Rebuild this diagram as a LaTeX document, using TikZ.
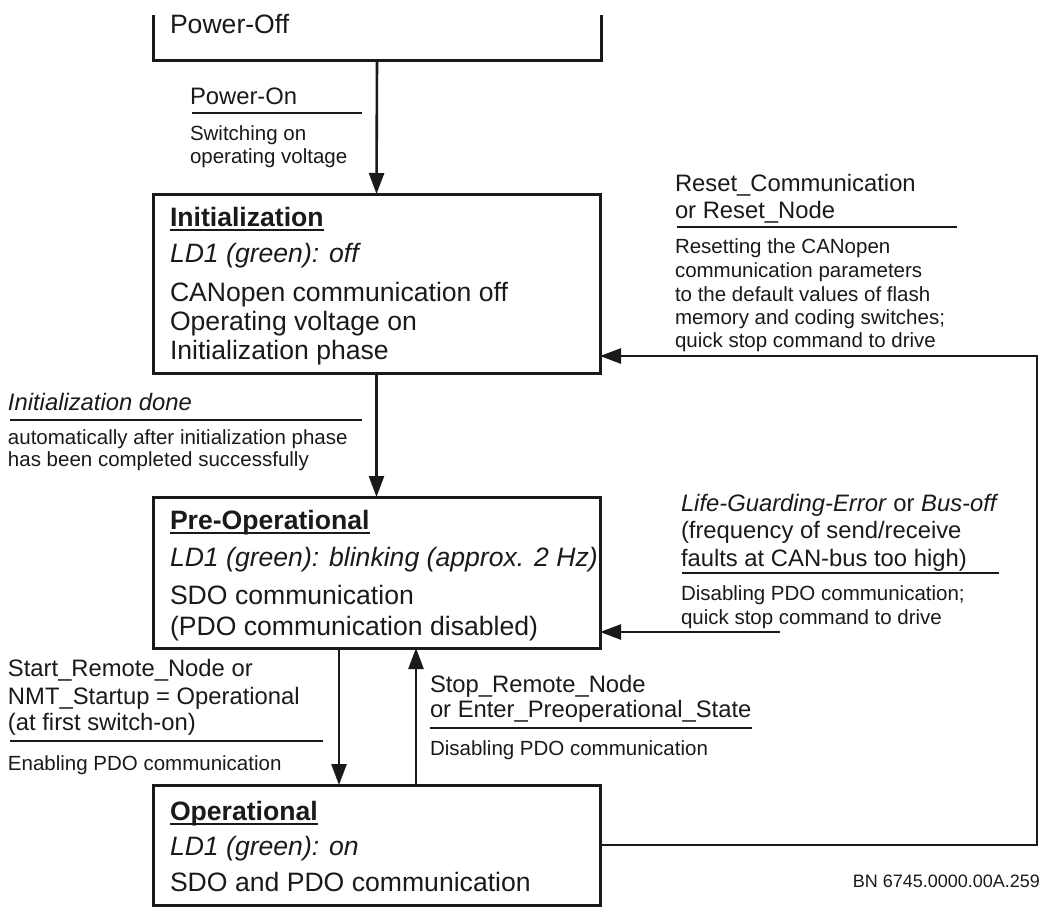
\documentclass[tikz,border=0pt]{standalone}
\usepackage{fontspec}
\setmainfont{Liberation Sans}
\usetikzlibrary{arrows.meta}
\definecolor{ink}{HTML}{1A1A1A}
\newcommand\fbody{\fontsize{26.6}{30}\selectfont}
\newcommand\flabel{\fontsize{23.8}{27}\selectfont}
\newcommand\fsub{\fontsize{20.5}{23.5}\selectfont}
\newcommand\fbn{\fontsize{18}{20}\selectfont}
\begin{document}
\begin{tikzpicture}[x=1pt,y=-1pt,
  every node/.style={inner sep=0pt, outer sep=0pt, text=ink},
  statebox/.style={draw=ink, line width=3pt, anchor=north west, minimum width=447pt},
  txt/.style={anchor=base west, font=\fbody},
  ttl/.style={anchor=base west, font=\fbody\bfseries},
  itl/.style={anchor=base west, font=\fbody\itshape},
  lbl/.style={anchor=base west, font=\flabel},
  sub/.style={anchor=base west, font=\fsub},
  uline/.style={draw=ink, line width=2.4pt},
  conn/.style={draw=ink, line width=2.6pt, -{Triangle[length=21pt,width=15pt]}},
  wire/.style={draw=ink, line width=3pt}
]
\useasboundingbox[fill=white] (0,0) rectangle (1050,914);

% state boxes
\node[anchor=north west, minimum width=448pt, minimum height=45pt] (poweroff) at (153,15) {};
\draw[wire] (poweroff.north west) -- (poweroff.south west) -- (poweroff.south east) -- (poweroff.north east);
\node[statebox, minimum height=179pt] (init) at (153,194) {};
\node[statebox, minimum height=151pt] (preop) at (153,497) {};
\node[statebox, minimum height=120pt] (op) at (153,785) {};

% Power-Off text
\node[txt] (potxt) at (170,33) {Power-Off};

% Initialization
\node[ttl] (inittitle) at (170,226) {Initialization};
\draw[uline, line width=2pt] ([yshift=-3.5pt]inittitle.base west) -- ([yshift=-3.5pt]inittitle.base east);
\node[itl] (initld) at (170,262) {LD1 (green): off};
\node[txt] (init1) at (170,301) {CANopen communication off};
\node[txt] (init2) at (170,330) {Operating voltage on};
\node[txt] (init3) at (170,359) {Initialization phase};

% Pre-Operational
\node[ttl] (pretitle) at (170,529) {Pre-Operational};
\draw[uline, line width=2pt] ([yshift=-3.5pt]pretitle.base west) -- ([yshift=-3.5pt]pretitle.base east);
\node[itl] (preld) at (170,566) {LD1 (green): blinking (approx. 2 Hz)};
\node[txt] (pre1) at (170,604) {SDO communication};
\node[txt] (pre2) at (170,635) {(PDO communication disabled)};

% Operational
\node[ttl] (optitle) at (170,820) {Operational};
\draw[uline, line width=2pt] ([yshift=-3.5pt]optitle.base west) -- ([yshift=-3.5pt]optitle.base east);
\node[itl] (opld) at (170,855) {LD1 (green): on};
\node[txt] (op1) at (170,891) {SDO and PDO communication};

% connectors
\draw[conn] (poweroff.south) -- (init.north);
\draw[conn] (init.south) -- (preop.north);
\draw[conn] ([xshift=-37.5pt]preop.south) -- ([xshift=-37.5pt]op.north);
\draw[conn] ([xshift=39.5pt]op.north) -- ([xshift=39.5pt]preop.south);
\coordinate (rc) at (1037,356);
\draw[conn] (op.east) -| (rc) -- (init.east |- rc);
\coordinate (lg) at (780,632);
\draw[conn] (lg) -- (preop.east |- lg);

% Power-On label
\node[lbl] (pon) at (190,104) {Power-On};
\draw[uline] (192,113) -- (362,113);
\node[sub] (pon1) at (190,140) {Switching on};
\node[sub] (pon2) at (190,163) {operating voltage};

% Reset label
\node[lbl] (rs1) at (675,191) {Reset\_Communication};
\node[lbl] (rs2) at (675,218) {or Reset\_Node};
\draw[uline] (677,227) -- (957,227);
\node[sub] (rs3) at (675,253) {Resetting the CANopen};
\node[sub] (rs4) at (675,277) {communication parameters};
\node[sub] (rs5) at (675,301) {to the default values of flash};
\node[sub] (rs6) at (675,324) {memory and coding switches;};
\node[sub] (rs7) at (675,347) {quick stop command to drive};

% Initialization done label
\node[lbl, font=\flabel\itshape] (id1) at (8,410) {Initialization done};
\draw[uline] (10,420) -- (362,420);
\node[sub] (id2) at (8,444) {automatically after initialization phase};
\node[sub] (id3) at (8,466) {has been completed successfully};

% Life-Guarding label
\node[lbl] (lg1) at (681,511) {\textit{Life-Guarding-Error} or \textit{Bus-off}};
\node[lbl] (lg2) at (681,538) {(frequency of send/receive};
\node[lbl] (lg3) at (681,566) {faults at CAN-bus too high)};
\draw[uline] (682,573) -- (999,573);
\node[sub] (lg4) at (681,600) {Disabling PDO communication;};
\node[sub] (lg5) at (681,624) {quick stop command to drive};

% Start label
\node[lbl] (st1) at (8,676) {Start\_Remote\_Node or};
\node[lbl] (st2) at (8,704) {NMT\_Startup = Operational};
\node[lbl] (st3) at (8,730) {(at first switch-on)};
\draw[uline] (10,741) -- (323,741);
\node[sub] (st4) at (8,770) {Enabling PDO communication};

% Stop label
\node[lbl] (sp1) at (430,692) {Stop\_Remote\_Node};
\node[lbl] (sp2) at (430,717) {or Enter\_Preoperational\_State};
\draw[uline] (430,728) -- (752,728);
\node[sub] (sp3) at (430,755) {Disabling PDO communication};

% figure code
\node[anchor=base east, font=\fbn] (bn) at (1040,887) {BN 6745.0000.00A.259};
\end{tikzpicture}
\end{document}
